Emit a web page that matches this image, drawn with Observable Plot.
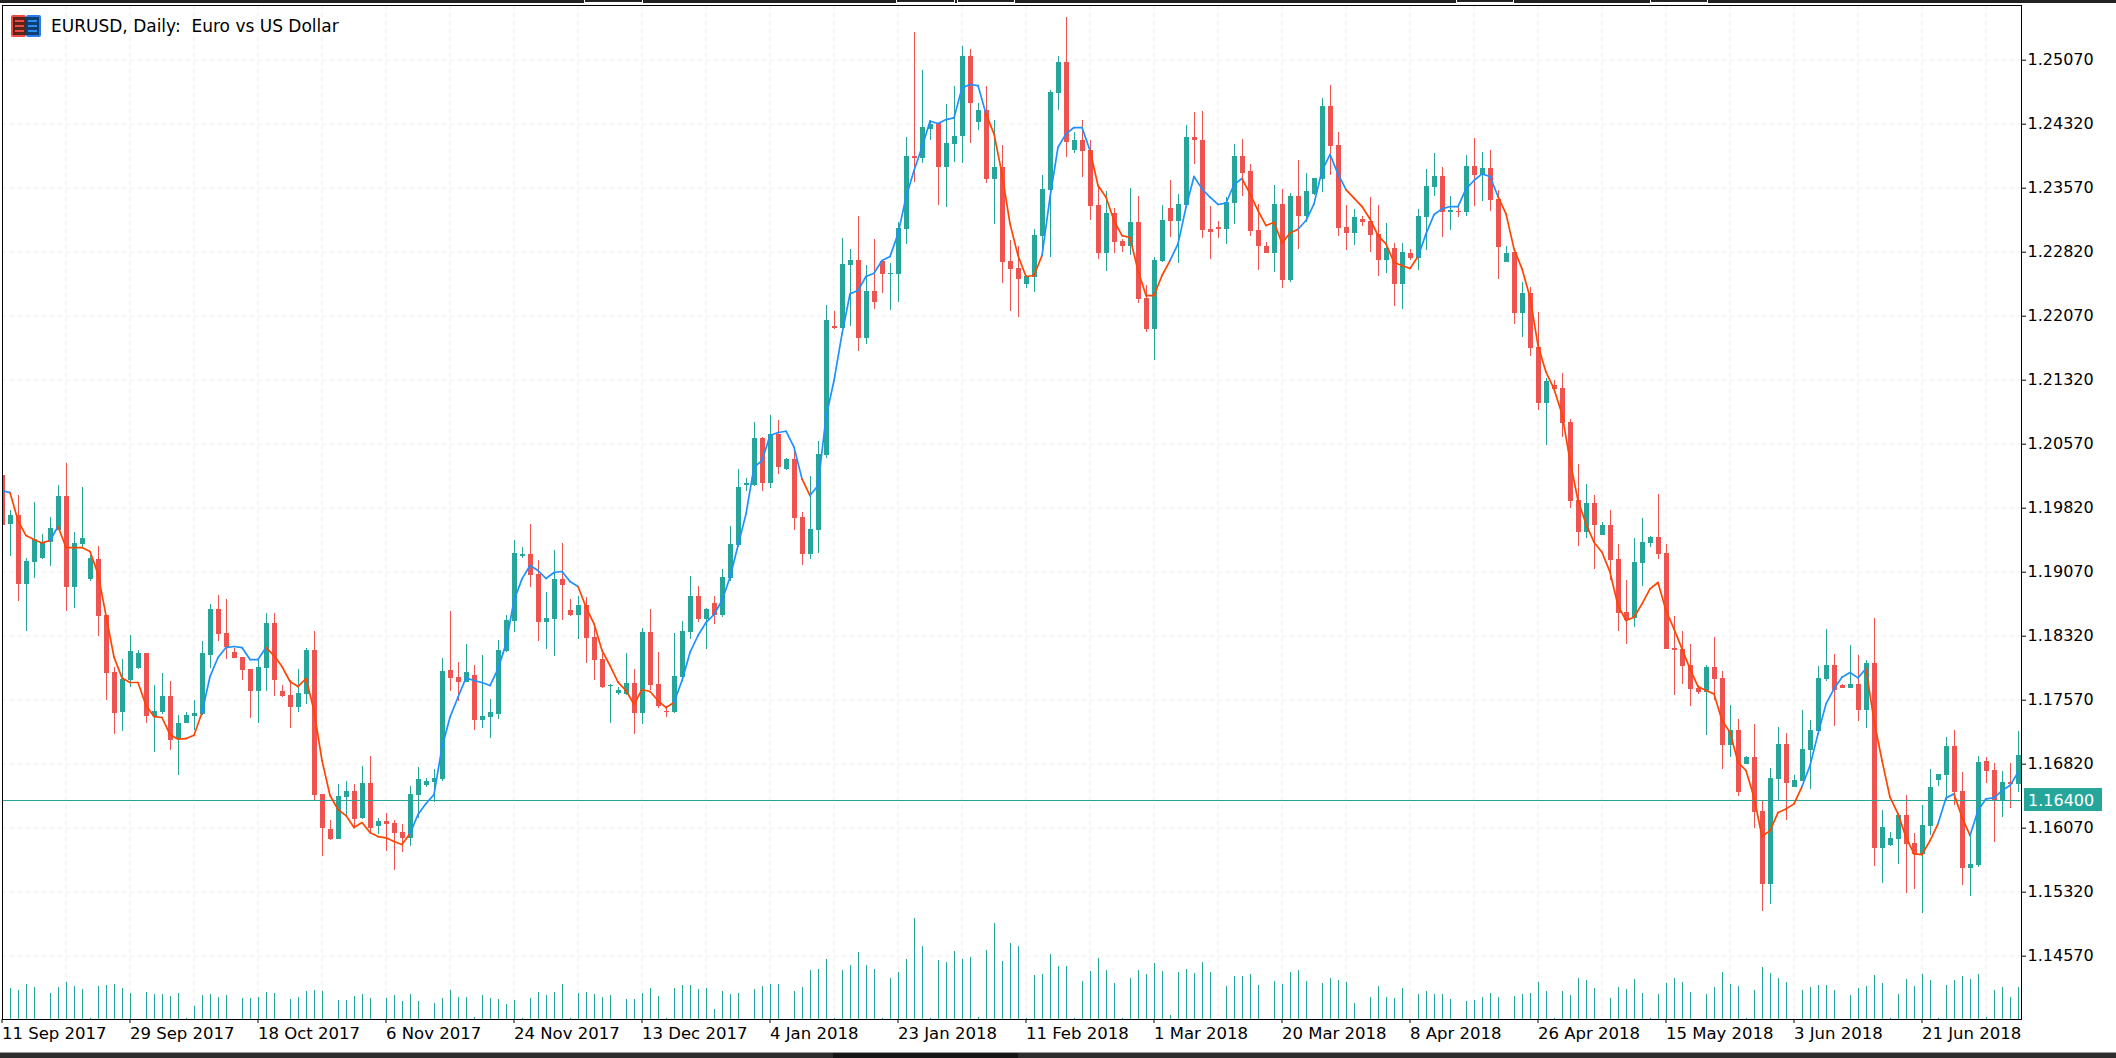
<!DOCTYPE html>
<html><head><meta charset="utf-8">
<script src="https://cdn.jsdelivr.net/npm/d3@7"></script>
<script src="https://cdn.jsdelivr.net/npm/@observablehq/plot@0.6"></script>
<style>
html,body{margin:0;padding:0;background:#fff;overflow:hidden}
#wrap{position:relative;width:2116px;height:1058px;overflow:hidden}
#wrap svg{display:block}
.strip{position:absolute;left:0;width:2116px;background:#222}
.tab{position:absolute;top:0;height:2px;border:1px solid #fff;border-top:none}
#title{position:absolute;left:51px;top:16px;font:17px/20px "DejaVu Sans",sans-serif;color:#000;white-space:pre}
</style></head><body><div id="wrap">
<div id="chart"></div>
<div class="strip" style="top:0;height:3px"></div>
<div class="tab" style="left:584px;width:57px"></div>
<div class="tab" style="left:896px;width:57px"></div>
<div class="tab" style="left:957px;width:56px"></div>
<div class="tab" style="left:1456px;width:56px"></div>
<div class="tab" style="left:1650px;width:56px"></div>
<div class="strip" style="top:1052px;height:6px;background:#2d2d2d;border-top:1px solid #9a9a9a;box-sizing:border-box"></div>
<div class="strip" style="top:1053px;height:5px;left:833px;width:185px;background:#151515"></div>
<svg style="position:absolute;left:11px;top:15px" width="30" height="22" viewBox="0 0 30 22">
<rect x="0" y="0" width="15" height="22" rx="2" fill="#f04a45"/><rect x="15" y="0" width="15" height="22" rx="2" fill="#2b7bf0"/>
<rect x="2" y="2" width="13" height="18" fill="#5a2418"/><rect x="15" y="2" width="13" height="18" fill="#0d3f70"/>
<path d="M4 6H13M4 11H13M4 16H13" stroke="#f04a45" stroke-width="2"/><path d="M17 6H26M17 11H26M17 16H26" stroke="#2b8ef0" stroke-width="2"/>
</svg>
<div id="title">EURUSD, Daily:  Euro vs US Dollar</div>
</div>
<script>
// Prices in 1e-5 units (points)
const open=[
120202,119628,119734,118925,119183,119230,119417,119558,119956,118890,
119394,118984,119218,118562,117894,117425,117800,117941,118117,117378,
117425,117613,117109,117296,117378,117402,118093,118632,118351,118128,
118070,117929,117671,117941,118468,117671,117625,117484,117636,118152,
116464,116054,115937,116429,116500,116183,116593,116089,116148,116125,
116019,115949,116453,116570,116605,116640,117917,117835,117777,117859,
117331,117367,117402,118140,118492,119258,119277,119043,118480,118515,
118984,118621,118562,118679,118304,118047,117730,117648,117636,117765,
117414,118363,117754,117437,117426,117836,118363,118785,118515,118703,
118562,118996,119383,120086,120086,120636,120109,120683,120273,120390,
119711,119277,119558,120437,121949,121925,122664,122722,121808,122359,
122711,122558,122558,123086,123941,123918,124257,124328,123812,124082,
124175,125113,124339,124480,123671,123812,122711,122629,122441,122523,
123004,123543,124679,125042,124011,124128,124011,123367,122804,123273,
122945,122886,123168,122277,121914,122711,123332,123179,123367,124164,
124128,123086,123109,123086,123390,123941,123765,123074,122886,122804,
123379,122488,123472,123238,123496,123671,124527,124070,123109,123039,
123203,123179,123027,122722,122863,122441,122804,122746,123226,123578,
123707,123285,123293,123285,123824,123730,123800,123437,122699,122816,
122101,122336,121703,121047,121257,121222,120824,119910,119535,119875,
119500,119617,119218,118597,118527,119172,119406,119476,119289,118175,
118164,117976,117707,117660,117953,117824,117039,117214,116816,116898,
116265,115410,116640,117050,116546,116617,116980,117203,117812,117976,
117742,117707,117753,117449,117999,115832,115867,115937,116218,115890,
115761,116089,116628,116687,117027,116499,115597,115632,116851,116746,
116394,116605,116582];
const high=[
120202,119792,119968,119230,119886,119511,119710,120085,120343,119535,
120062,119265,119371,118562,117953,118046,118328,118152,118117,117742,
117882,117789,117390,117425,117566,118257,118691,118796,118749,118175,
118070,117929,118035,118585,118585,117742,117800,117929,118175,118374,
116464,116159,116582,116617,116582,116793,116910,116183,116242,116159,
116113,116558,116781,116652,116757,118058,118609,118011,118222,117976,
118093,117578,118269,118562,119441,119359,119629,119207,118832,119324,
119406,118750,118785,118773,118445,118152,117754,117719,118117,117930,
118410,118633,118129,117496,118351,118492,119019,118902,118644,118785,
119101,119605,120273,120168,120824,120644,120906,120847,120402,120496,
119769,120191,120601,122195,122125,122980,122851,123238,122664,122968,
122711,122687,123168,124164,125394,124949,124363,124328,124550,124761,
125230,125195,124562,124761,124363,124070,122957,122886,122547,123086,
123718,124714,125113,125570,124222,124363,124128,123601,123531,123332,
122968,123566,123472,122429,122757,123367,123660,123496,124304,124457,
124468,123355,123179,123461,124082,124140,123847,123379,122933,123601,
123554,123507,123894,123742,123683,124621,124773,124222,123367,123320,
123238,123461,123367,123156,122921,122921,122851,123320,123789,123976,
123812,123472,123355,123953,124152,123988,124011,123543,122886,122816,
122464,122406,122113,121339,121316,121398,120859,120332,120097,119968,
119652,119793,119394,118972,119465,119699,119488,119980,119394,118550,
118375,118222,117742,117976,118304,117906,117507,117343,116910,117285,
116394,116769,117249,117179,116687,117449,117331,117964,118398,118105,
117753,118210,118093,118035,118527,116277,116019,116218,116453,116007,
116335,116757,116699,117132,117214,116722,115984,116910,116898,116828,
116734,116828,117203];
const low=[
119617,119253,118726,118374,118996,119218,119136,119558,118609,118644,
119363,118960,118316,117566,117168,117203,117718,117929,117296,116957,
117402,116980,116687,117296,117214,117390,117941,118257,118046,118058,
117800,117355,117296,117671,117613,117601,117238,117425,117519,116394,
115738,115925,115937,116218,116066,116172,116019,115996,115797,115574,
115785,115855,116183,116547,116371,116617,117671,117554,117777,117214,
117238,117121,117343,118128,118363,119230,118890,118258,118164,118082,
118504,118551,118281,118000,117800,117707,117297,117625,117625,117168,
117285,117683,117472,117367,117414,117824,118281,118480,118164,118457,
118539,118961,119359,120015,120074,120015,120050,120215,120261,119558,
119148,119218,119289,120402,121914,121925,121949,121656,121738,122148,
122336,122136,122230,122910,123636,123859,124128,123367,123343,123871,
123859,124093,124246,123625,123144,122453,122125,122054,122394,122347,
122781,122757,124480,123929,123976,123695,123191,122734,122593,122804,
122816,122781,122218,121879,121550,122699,122992,122687,123355,123847,
122980,122734,122980,122910,123144,123472,123004,122605,122804,122582,
122394,122464,122851,123168,123484,123519,123718,123004,122839,122898,
123121,122816,122535,122570,122183,122148,122722,122605,122839,123472,
122992,123074,123226,123238,123355,123414,123296,122500,122699,121972,
121820,121597,120964,120554,121210,120648,119816,119371,119465,119101,
119500,118972,118375,118222,118422,118902,119359,119218,118164,117625,
117753,117496,117636,117156,117566,116757,116898,116441,116816,116066,
115093,115175,116394,116160,116546,116617,116523,117191,117789,117261,
117710,117707,117320,117238,115621,115421,115855,115644,115304,115351,
115070,115984,116558,116394,116335,115398,115269,115609,116593,115902,
116195,116300,116488];
const close=[
119617,119734,118925,119195,119449,119402,119581,119956,118890,119406,
119464,119230,118550,117882,117414,117812,118140,118117,117378,117437,
117613,117097,117296,117390,117414,118117,118632,118339,118187,118058,
117917,117671,117953,118468,117800,117613,117484,117648,118152,116453,
116066,115937,116441,116500,116172,116593,116066,116148,116113,116007,
115949,116464,116640,116617,116652,117906,117824,117777,117894,117331,
117378,117425,118152,118503,119289,119273,119031,118480,118527,118984,
118914,118562,118679,118293,118035,117719,117742,117683,117765,117414,
118363,117742,117496,117426,117847,118375,118785,118515,118633,118562,
119008,119394,120062,120109,120636,120109,120683,120297,120390,119699,
119277,119570,120449,122019,121925,122675,122722,121808,122359,122230,
122558,122570,123097,123941,123918,124281,124316,123812,124093,124175,
125113,124562,124480,123671,123812,122699,122617,122500,122535,123015,
123554,124691,125042,124105,124128,124000,123355,122804,123273,122933,
122886,123168,122265,121914,122722,123191,123179,123379,124164,124128,
123074,123050,123086,123402,123941,123742,123062,122886,122804,123379,
122488,123472,123238,123531,123683,124527,124058,123097,123039,123226,
123168,123015,122722,122863,122441,122816,122746,123238,123589,123707,
123285,123304,123285,123824,123718,123800,123425,122875,122804,122101,
122336,121691,121047,121304,121210,120812,119898,119535,119875,119617,
119617,119207,118586,118504,119183,119418,119476,119277,118164,118152,
117964,117695,117660,117953,117812,117039,117214,116488,116898,116253,
115410,116652,117050,116593,116628,116992,117214,117824,117976,117683,
117710,117753,117449,117999,115832,116078,115949,116218,115878,115761,
116101,116546,116699,117027,116488,115597,115644,116839,116734,116394,
116605,116582,116921];
// Moving average, points
const ma=[
120027,120003,119675,119499,119453,119413,119441,119605,119359,119359,
119359,119312,119050,118562,118074,117831,117777,117777,117507,117378,
117367,117167,117113,117120,117159,117425,117847,118070,118187,118199,
118187,118046,118046,118187,118093,117964,117789,117730,117824,117449,
116863,116453,116289,116218,116078,116136,116019,115972,115957,115914,
115878,116007,116230,116359,116464,117019,117371,117605,117831,117800,
117777,117742,117937,118230,118738,118992,119148,119090,118996,119066,
119078,118961,118902,118660,118465,118152,117976,117781,117683,117519,
117695,117672,117566,117484,117543,117800,118129,118328,118480,118574,
118738,119011,119383,119753,120300,120378,120671,120707,120722,120535,
120164,119968,120086,120886,121316,121863,122332,122371,122535,122574,
122722,122769,123035,123464,123777,124050,124355,124328,124374,124394,
124746,124785,124773,124441,124206,123738,123152,122781,122535,122547,
122781,123464,124050,124206,124281,124281,124011,123601,123464,123191,
123015,122992,122605,122312,122312,122547,122722,122917,123347,123707,
123562,123464,123379,123394,123613,123683,123503,123308,123132,123171,
122925,123046,123089,123191,123386,123777,123964,123738,123554,123453,
123355,123210,123015,122917,122699,122664,122629,122769,123035,123261,
123328,123355,123355,123562,123660,123738,123707,123472,123269,122859,
122625,122293,121726,121414,121218,120925,120378,119910,119636,119421,
119304,119070,118679,118504,118542,118699,118874,118949,118621,118406,
118171,117937,117730,117683,117644,117331,117195,116843,116746,116433,
115972,116042,116253,116296,116355,116558,116804,117175,117527,117703,
117839,117894,117831,117941,117331,116863,116433,116238,115964,115769,
115761,115925,116121,116425,116472,116199,115984,116277,116414,116425,
116511,116570,116722];
// Segments of the average drawn in the falling colour: [first, last] by end index
const maFalling=[[2,6],[8,25],[34,51],[73,84],[101,101],[124,130],[137,146],[156,162],[169,177],[188,225],[234,242],[245,246]];
const volume=[
0,94,88,106,97,0,79,97,112,100,
91,3,100,103,106,94,79,0,82,76,
76,70,79,3,40,73,76,67,73,0,
64,64,67,82,79,0,61,67,85,88,
85,0,58,58,70,76,64,0,64,73,
55,76,55,0,49,64,88,67,67,5,
73,64,61,46,58,2,64,82,73,82,
106,3,79,82,76,67,73,0,61,61,
79,94,70,3,94,103,103,91,94,31,
85,76,79,0,91,100,106,106,0,85,
97,148,151,181,3,148,163,202,163,151,
3,124,142,181,304,220,3,178,172,205,
181,187,7,208,289,175,229,220,3,133,
136,196,160,160,3,115,145,184,148,109,
3,124,148,136,169,145,13,142,151,139,
172,142,0,100,130,130,136,103,0,115,
106,142,148,115,0,109,124,118,112,49,
0,67,100,67,64,94,0,76,85,76,
76,61,0,55,58,67,79,67,0,70,
76,79,112,85,3,85,73,124,118,94,
0,64,97,91,121,79,3,76,109,124,
112,82,0,76,97,142,106,100,3,88,
157,139,124,112,0,88,97,103,103,88,
0,73,94,100,133,109,3,76,121,100,
136,118,3,103,118,130,121,136,7,88,
97,67,97];
const dateIdx=[0,16,32,48,64,80,96,112,128,144,160,176,192,208,224,240];
const dateLabels=["11 Sep 2017","29 Sep 2017","18 Oct 2017","6 Nov 2017","24 Nov 2017","13 Dec 2017","4 Jan 2018","23 Jan 2018","11 Feb 2018","1 Mar 2018","20 Mar 2018","8 Apr 2018","26 Apr 2018","15 May 2018","3 Jun 2018","21 Jun 2018"];
const gridIdx=d3.range(8,253,8);
const priceTicks=[1.1457,1.1532,1.1607,1.1682,1.1757,1.1832,1.1907,1.1982,1.2057,1.2132,1.2207,1.2282,1.2357,1.2432,1.2507];
const lastPrice=1.164;

const UP="#26a69a",DOWN="#ef5350",BLUE="#1e90ff",ORANGE="#ff4500";
const yDomain=[1.13828,1.25711],volScale=3.90625e-5;
const candles=open.map((o,i)=>({i,o:o/1e5,h:high[i]/1e5,l:low[i]/1e5,c:close[i]/1e5,col:close[i]>=o?UP:DOWN,v:volume[i]}));
const falling=i=>maFalling.some(([a,b])=>i>=a&&i<=b);
const maSeg=ma.slice(1).map((v,k)=>({a:k,b:k+1,ya:ma[k]/1e5,yb:v/1e5,col:falling(k+1)?ORANGE:BLUE}));

const lastLabel=(index,{y},values,{width,marginRight})=>{
  const g=d3.create("svg:g"), Y=y(lastPrice), X=width-marginRight;
  g.append("rect").attr("x",X+3).attr("y",Y-11.5).attr("width",78).attr("height",23).attr("fill",UP);
  g.append("text").attr("x",X+7).attr("y",Y+0.5).attr("dy","0.35em").attr("fill","#fff")
   .attr("text-anchor","start").attr("font-size",16).text(lastPrice.toFixed(5));
  return g.node();
};

const chart=Plot.plot({
  width:2116,height:1058,marginLeft:2,marginRight:95,marginTop:5,marginBottom:39,
  style:{fontFamily:"'DejaVu Sans',sans-serif",fontSize:"16px",color:"#000",background:"#fff"},
  x:{type:"linear",domain:[0.0625,252.4375]},
  y:{type:"linear",domain:yDomain},
  marks:[
    Plot.gridX(gridIdx,{stroke:"#ececec",strokeOpacity:1,strokeDasharray:"4,4"}),
    Plot.gridY(priceTicks,{stroke:"#ececec",strokeOpacity:1,strokeDasharray:"4,4"}),
    Plot.ruleX(candles.filter(d=>d.v>0),{x:"i",y1:yDomain[0],y2:d=>yDomain[0]+d.v*volScale,stroke:UP,strokeWidth:1,shapeRendering:"crispEdges"}),
    Plot.ruleX(candles,{x:"i",y1:"l",y2:"h",stroke:"col",strokeWidth:1,clip:true,shapeRendering:"crispEdges"}),
    Plot.ruleX(candles,{x:"i",y1:"o",y2:"c",stroke:"col",strokeWidth:5,clip:true,shapeRendering:"crispEdges"}),
    Plot.ruleY([lastPrice],{stroke:UP,strokeWidth:1,shapeRendering:"crispEdges"}),
    Plot.link(maSeg,{x1:"a",y1:"ya",x2:"b",y2:"yb",stroke:"col",strokeWidth:1.7,strokeLinecap:"round",clip:true}),
    Plot.frame({stroke:"#000",strokeWidth:1}),
    Plot.axisX({ticks:dateIdx,tickFormat:i=>dateLabels[dateIdx.indexOf(i)],textAnchor:"start",tickSize:4,tickPadding:4,label:null,fontSize:16.5}),
    Plot.axisY({anchor:"right",ticks:priceTicks,tickFormat:d=>d.toFixed(5),tickSize:4,tickPadding:2,label:null,fontSize:16}),
    lastLabel
  ]
});
document.getElementById("chart").appendChild(chart);
</script></body></html>
